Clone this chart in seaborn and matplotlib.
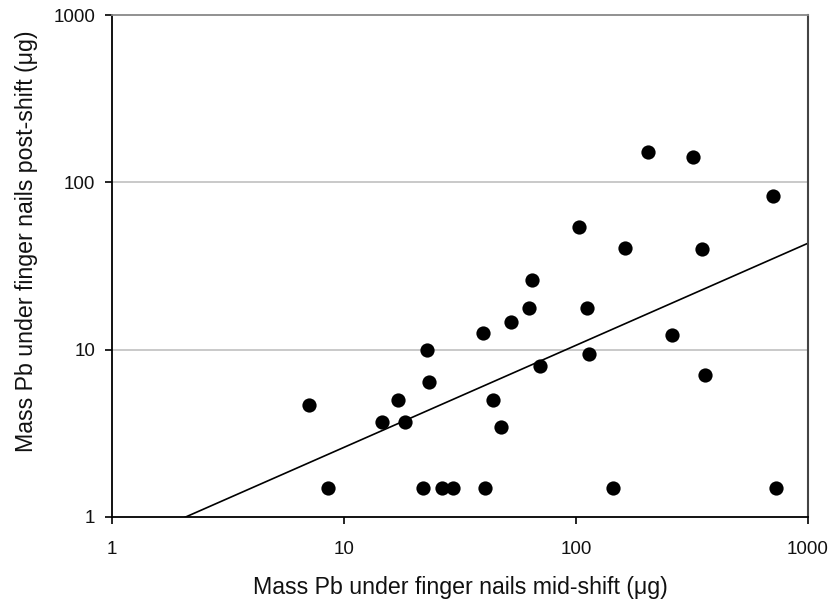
import numpy as np
import pandas as pd
import matplotlib
matplotlib.use("Agg")
import matplotlib.pyplot as plt
import seaborn as sns
from matplotlib.ticker import FixedLocator, FixedFormatter, NullLocator

# Lead mass under finger nails (µg): mid-shift vs post-shift samples
mid_shift = [7.05, 8.5, 14.6, 17.1, 18.4, 22.9, 23.3, 21.9, 26.5, 29.4,
             39.7, 52.4, 43.9, 47.7, 40.5, 69.9, 204, 320, 705, 103,
             162, 350, 112, 258, 113.6, 360, 64.4, 62.5, 144, 729]
post_shift = [4.69, 1.5, 3.71, 5.0, 3.70, 10.0, 6.38, 1.5, 1.5, 1.5,
              12.5, 14.7, 4.98, 3.45, 1.5, 7.99, 152.6, 141, 82.9, 53.9,
              40.7, 40.2, 17.7, 12.3, 9.39, 7.06, 26.0, 17.7, 1.5, 1.5]

# Power-law trend line: post = a * mid ** b
fit_a = 0.64
fit_b = 0.61

tick_values = [1, 10, 100, 1000]
tick_labels = ["1", "10", "100", "1000"]

sns.set_theme(style="white")
plt.rcParams["font.family"] = ["Liberation Sans", "DejaVu Sans"]

df = pd.DataFrame({"mid": mid_shift, "post": post_shift})
fit_x = np.logspace(0, 3, 200)
fit_df = pd.DataFrame({"mid": fit_x, "post": fit_a * fit_x ** fit_b})

fig = plt.figure(figsize=(8.35, 6.08), dpi=100)
ax = fig.add_axes([0.1341, 0.1497, 0.8336, 0.8256])

ax.set_xscale("log")
ax.set_yscale("log")
ax.set_xlim(1, 1000)
ax.set_ylim(1, 1000)

# horizontal grid lines at the decades
for v in [10, 100]:
    ax.axhline(v, color="#c0c0c0", lw=1.2, zorder=0)

sns.lineplot(data=fit_df, x="mid", y="post", ax=ax, color="black", lw=1.2,
             zorder=2, legend=False)
sns.scatterplot(data=df, x="mid", y="post", ax=ax, color="black", s=105,
                edgecolor="black", linewidth=0, zorder=3, legend=False)

for axis in (ax.xaxis, ax.yaxis):
    axis.set_major_locator(FixedLocator(tick_values))
    axis.set_major_formatter(FixedFormatter(tick_labels))
    axis.set_minor_locator(NullLocator())

ax.tick_params(axis="both", which="major", direction="out", length=5,
               width=1.2, color="black", labelsize=13.5, labelcolor="#111111",
               bottom=True, left=True)
ax.tick_params(axis="y", pad=7)
ax.tick_params(axis="x", pad=12)

for side in ["left", "bottom"]:
    ax.spines[side].set_color("black")
    ax.spines[side].set_linewidth(1.3)
ax.spines["top"].set_color("#888888")
ax.spines["top"].set_linewidth(1.3)
ax.spines["right"].set_color("#444444")
ax.spines["right"].set_linewidth(1.5)

ax.set_xlabel("Mass Pb under finger nails mid-shift (\u03bcg)", fontsize=16.7,
              color="#111111")
ax.set_ylabel("Mass Pb under finger nails post-shift (\u03bcg)", fontsize=16.7,
              color="#111111")
# label placement in axes coordinates
ax.xaxis.set_label_coords(0.5, -0.117)
ax.yaxis.set_label_coords(-0.106, 0.55)

fig.savefig("out.png", dpi=100, facecolor="white")
